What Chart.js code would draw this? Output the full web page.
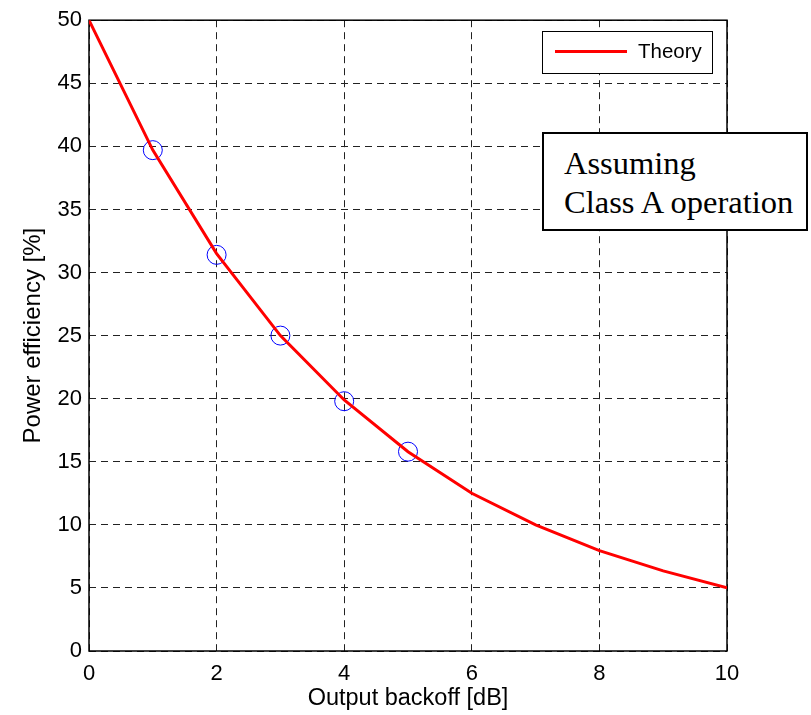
<!DOCTYPE html>
<html>
<head>
<meta charset="utf-8">
<script src="https://cdn.jsdelivr.net/npm/chart.js@4.4.1/dist/chart.umd.min.js"></script>
<style>
  html, body { margin: 0; padding: 0; background: #fff; }
  #wrap { position: relative; width: 811px; height: 715px; }
  #note {
    position: absolute; left: 542px; top: 132px; width: 262px; height: 95px;
    border: 2px solid #000; background: #fff;
    font-family: 'Liberation Serif', 'Times New Roman', serif; font-size: 32.5px;
    line-height: 39px; color: #000; box-sizing: content-box;
  }
  #note div { position: absolute; left: 20px; white-space: nowrap; }
</style>
</head>
<body>
<div id="wrap">
  <canvas id="c" width="811" height="715"></canvas>
  <div id="note"><div style="top:10px">Assuming</div><div style="top:49px">Class A operation</div></div>
</div>
<script>
const backoff = [0, 1, 2, 3, 4, 5, 6, 7, 8, 9, 10];
const theory = [50, 39.7, 31.5, 25.0, 19.9, 15.8, 12.5, 10.0, 7.96, 6.35, 5.0];
const measuredX = [1, 2, 3, 4, 5];
const measured = [39.7, 31.4, 25.0, 19.8, 15.8];
const xTicks = [0, 2, 4, 6, 8, 10];
const yTicks = [0, 5, 10, 15, 20, 25, 30, 35, 40, 45, 50];

const SANS = "'Liberation Sans', Arial, sans-serif";

const boxPlugin = {
  id: 'box',
  beforeDatasetsDraw(chart) {
    const {ctx, chartArea: a} = chart;
    ctx.save();
    ctx.strokeStyle = '#000';
    ctx.lineWidth = 1.5;
    ctx.setLineDash([]);
    ctx.strokeRect(a.left, a.top, a.right - a.left, a.bottom - a.top);
    ctx.restore();
  },
  afterDatasetsDraw(chart) {
    const {ctx} = chart;
    const ds = chart.data.datasets[0];
    ctx.save();
    ctx.fillStyle = '#fff';
    ctx.fillRect(542, 31, 170, 42);
    ctx.strokeStyle = '#000';
    ctx.lineWidth = 1;
    ctx.strokeRect(542.5, 31.5, 170, 42);
    ctx.strokeStyle = ds.borderColor;
    ctx.lineWidth = ds.borderWidth;
    ctx.beginPath();
    ctx.moveTo(555, 51.5);
    ctx.lineTo(627, 51.5);
    ctx.stroke();
    ctx.fillStyle = '#000';
    ctx.font = '20.5px ' + SANS;
    ctx.textBaseline = 'middle';
    ctx.fillText(ds.label, 638, 52);
    ctx.restore();
  }
};

new Chart(document.getElementById('c'), {
  type: 'line',
  data: {
    datasets: [
      {
        label: 'Theory',
        data: backoff.map((x, i) => ({x: x, y: theory[i]})),
        borderColor: '#ff0000',
        borderWidth: 3,
        pointRadius: 0,
        tension: 0,
        fill: false
      },
      {
        label: 'Measured',
        data: measuredX.map((x, i) => ({x: x, y: measured[i]})),
        showLine: false,
        borderColor: '#0000ff',
        backgroundColor: 'rgba(0,0,0,0)',
        borderWidth: 1,
        pointStyle: 'circle',
        pointRadius: 9.5,
        pointHoverRadius: 9.5
      }
    ]
  },
  options: {
    responsive: false,
    animation: false,
    events: [],
    layout: { padding: { top: 17.5, right: 84, left: 0, bottom: 0 } },
    plugins: { legend: { display: false }, tooltip: { enabled: false } },
    scales: {
      x: {
        type: 'linear', min: 0, max: 10,
        afterBuildTicks(s) { s.ticks = xTicks.map(v => ({value: v})); },
        afterFit(s) { s.height = 64; },
        grid: { color: '#222', lineWidth: 1, drawTicks: false },
        border: { display: false, dash: [7, 5] },
        ticks: { color: '#000', font: { family: SANS, size: 22 }, padding: 10, maxRotation: 0 },
        title: { display: true, text: 'Output backoff [dB]', color: '#000', font: { family: SANS, size: 23.5 }, padding: { top: 0, bottom: 2 } }
      },
      y: {
        type: 'linear', min: 0, max: 50,
        afterBuildTicks(s) { s.ticks = yTicks.map(v => ({value: v})); },
        afterFit(s) { s.width = 89; },
        grid: { color: '#222', lineWidth: 1, drawTicks: false },
        border: { display: false, dash: [7, 5] },
        ticks: { color: '#000', font: { family: SANS, size: 22 }, padding: 7 },
        title: { display: true, text: 'Power efficiency [%]', color: '#000', font: { family: SANS, size: 24 }, padding: { top: 19, bottom: 0 } }
      }
    }
  },
  plugins: [boxPlugin]
});
</script>
</body>
</html>
